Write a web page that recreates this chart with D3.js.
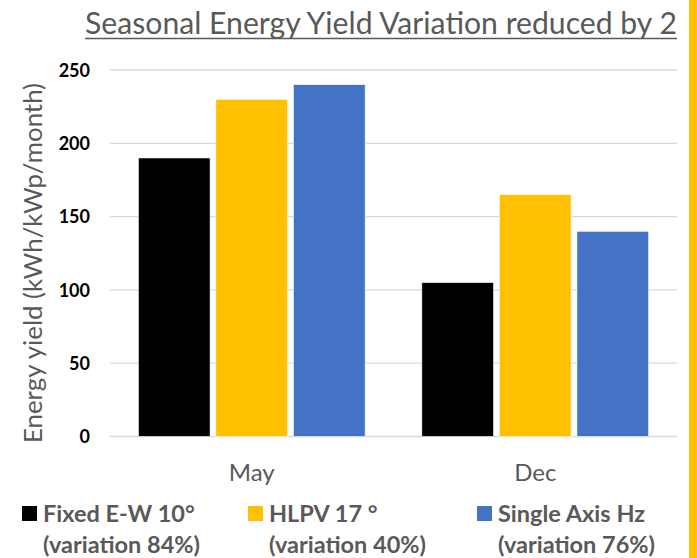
<!DOCTYPE html>
<html><head><meta charset="utf-8">
<script src="https://cdn.jsdelivr.net/npm/d3@7"></script>
<style>body{margin:0;background:#fff}svg{display:block}</style>
</head><body>
<svg id="c" width="697" height="558"></svg>
<script>
const categories = ["May", "Dec"];
const seriesNames = ["Fixed E-W 10°", "HLPV 17 °", "Single Axis Hz"];
const seriesNotes = ["(variation 84%)", "(variation 40%)", "(variation 76%)"];
const fixedEW = [190, 105];
const hlpv = [230, 165];
const singleAxis = [240, 140];
const yTicks = [0, 50, 100, 150, 200, 250];
const colors = ["#000000", "#FFC000", "#4472C4"];

(function () {
const seriesValues = [fixedEW, hlpv, singleAxis];
const FONT = "Lato, 'Open Sans', sans-serif";
const GRAY = "#595959";
const svg = d3.select("#c");

const pL = 110, pR = 677, pT = 70, pB = 436.5;
const y = d3.scaleLinear().domain([0, 250]).range([pB, pT]);
const x0 = d3.scaleBand().domain(categories).range([pL, pR]).paddingInner(0.2).paddingOuter(0.1);
const x1 = d3.scaleBand().domain(seriesNames).range([0, x0.bandwidth()]).paddingInner(0.075);

function fit(sel, target) {
  const n = sel.node(); const fs = parseFloat(sel.attr("font-size"));
  const w = n.getComputedTextLength();
  sel.attr("font-size", (fs * target / w).toFixed(2));
}

// gridlines
svg.append("g").selectAll("line").data(yTicks).join("line")
  .attr("x1", pL).attr("x2", pR)
  .attr("y1", d => y(d)).attr("y2", d => y(d))
  .attr("stroke", "#d9d9d9").attr("stroke-width", 1.3);

// y axis labels
const yAxis = d3.axisLeft(y).tickValues(yTicks).tickSize(0).tickPadding(0);
const ga = svg.append("g").attr("transform", "translate(90,0)").call(yAxis);
ga.select(".domain").remove();
ga.selectAll("text").attr("font-family", FONT).attr("font-size", 18).attr("font-weight", "bold")
  .attr("fill", "#000").attr("dy", "0.35em");

// bars
const groups = svg.append("g").selectAll("g").data(categories).join("g")
  .attr("transform", d => `translate(${x0(d)},0)`);
groups.selectAll("rect").data((c, ci) => seriesNames.map((s, si) => ({ s, si, v: seriesValues[si][ci] })))
  .join("rect")
  .attr("x", d => x1(d.s)).attr("width", x1.bandwidth())
  .attr("y", d => y(d.v)).attr("height", d => y(0) - y(d.v))
  .attr("fill", d => colors[d.si]).attr("stroke", "#fff").attr("stroke-width", 0.6);

// x labels
const xAxis = d3.axisBottom(x0).tickSize(0).tickPadding(0);
const gx = svg.append("g").attr("transform", "translate(0,481)").call(xAxis);
gx.select(".domain").remove();
gx.selectAll("text").attr("font-family", FONT).attr("font-size", 24).attr("fill", GRAY).attr("dy", 0);

// title
const t = svg.append("text").attr("x", 85).attr("y", 34).attr("font-family", FONT)
  .attr("font-size", 26).attr("fill", GRAY)
  .text("Seasonal Energy Yield Variation reduced by 2");
fit(t, 592);
svg.append("line").attr("x1", 85).attr("x2", 677).attr("y1", 38.5).attr("y2", 38.5)
  .attr("stroke", GRAY).attr("stroke-width", 1.6);

// y title
const yt = svg.append("text").attr("transform", "translate(42,263) rotate(-90)")
  .attr("text-anchor", "middle").attr("font-family", FONT).attr("font-size", 22).attr("fill", GRAY)
  .text("Energy yield (kWh/kWp/month)");
fit(yt, 360);

// legend
const legX = [22, 248, 477];
const lg = svg.append("g").selectAll("g").data(seriesNames).join("g");
lg.append("rect").attr("x", (d, i) => legX[i]).attr("y", 506).attr("width", 15).attr("height", 15)
  .attr("fill", (d, i) => colors[i]);
lg.append("text").attr("x", (d, i) => legX[i] + 21).attr("y", 522).attr("font-family", FONT)
  .attr("font-size", 23.5).attr("font-weight", "bold").attr("fill", GRAY).text(d => d);
lg.append("text").attr("x", (d, i) => legX[i] + 21).attr("y", 553).attr("font-family", FONT)
  .attr("font-size", 23.5).attr("font-weight", "bold").attr("fill", GRAY).text((d, i) => seriesNotes[i]);

// right accent strip
svg.append("rect").attr("x", 689).attr("y", 0).attr("width", 8).attr("height", 558).attr("fill", "#FFC000");
})();
</script>
</body></html>
